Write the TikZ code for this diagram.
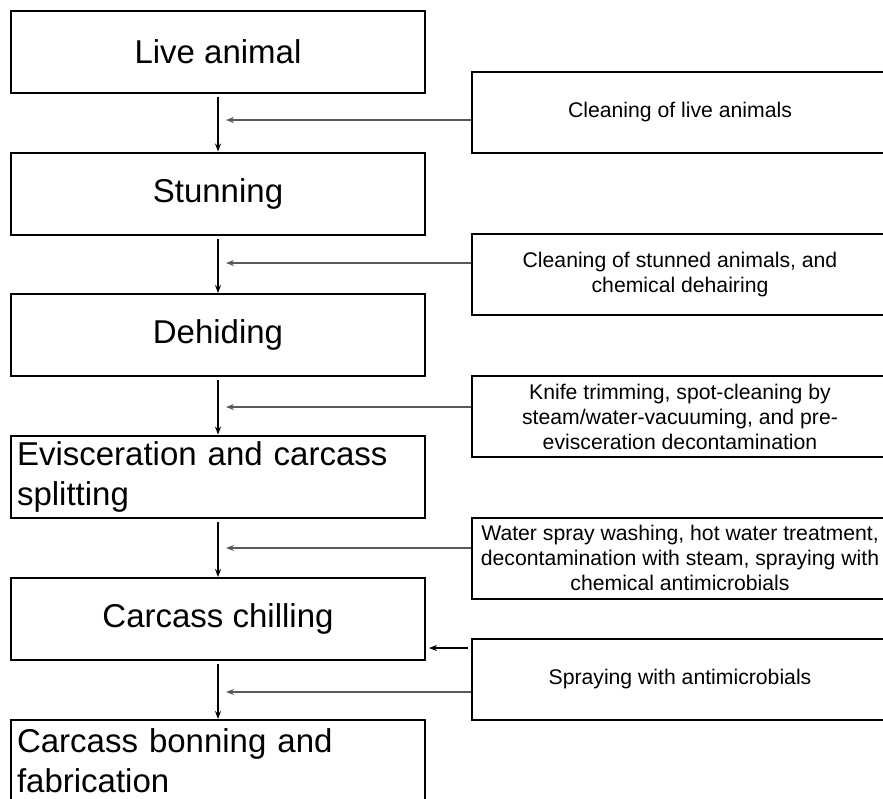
\documentclass[tikz,border=0pt]{standalone}
\usepackage{fontspec}
\setmainfont{Liberation Sans}
\usetikzlibrary{arrows, arrows.meta}

\begin{document}
\begin{tikzpicture}[x=1pt, y=-1pt, >={Stealth[length=8pt, width=6pt]},
		stepbox/.style={draw, line width=2pt, minimum width=414pt, minimum height=82pt, inner sep=6pt, font=\fontsize{33}{40}\selectfont},
		treatbox/.style={draw, line width=2pt, minimum width=416pt, minimum height=81pt, inner sep=2pt, align=center, font=\fontsize{21.2}{25}\selectfont},
		flow/.style={->, line width=1.4pt},
		feed/.style={->, line width=1.6pt, draw=black!65},]
			\useasboundingbox (0, 0) rectangle (883, 798);
			\clip (0, 0) rectangle (883, 798);

			% process steps
			\node[stepbox] at (218,  51.5) (live)     {Live animal};
			\node[stepbox] at (218, 193.5) (stunning) {Stunning};
			\node[stepbox] at (218, 335)   (dehiding) {Dehiding};
			\node[stepbox, align=left, text width=402pt] at (218, 477) (evisc) {Evisceration and carcass\\splitting};
			\node[stepbox] at (218, 619)   (chilling) {Carcass chilling};
			\node[stepbox, align=left, text width=402pt] at (218, 761) (boning) {Carcass bonning and\\fabrication};

			% interventions
			\node[treatbox] at (680, 112.5) (cleanlive) {Cleaning of live animals};
			\node[treatbox] at (680, 274.5) (cleanstun) {Cleaning of stunned animals, and\\chemical dehairing};
			\node[treatbox] at (680, 416.5) (trim)      {Knife trimming, spot-cleaning by\\steam/water-vacuuming, and pre-\\evisceration decontamination};
			\node[treatbox] at (680, 558)   (wash)      {Water spray washing, hot water treatment,\\decontamination with steam, spraying with\\chemical antimicrobials};
			\node[treatbox] at (680, 679.5) (spray)     {Spraying with antimicrobials};

			\coordinate (f1) at (226, 120);
			\coordinate (f2) at (226, 263);
			\coordinate (f3) at (226, 407);
			\coordinate (f4) at (226, 548);
			\coordinate (f5) at (226, 692);
			\coordinate (s1) at (468, 648);
			\coordinate (s2) at (429, 648);

			\draw[flow, shorten <=3pt]
					(live.south)     -- (stunning.north);
			\draw[flow, shorten <=3pt]
					(stunning.south) -- (dehiding.north);
			\draw[flow, shorten <=3pt]
					(dehiding.south) -- (evisc.north);
			\draw[flow, shorten <=3pt]
					(evisc.south)    -- (chilling.north);
			\draw[flow, shorten <=3pt]
					(chilling.south) -- (boning.north);

			\draw[feed] (f1 -| cleanlive.west) -- (f1);
			\draw[feed] (f2 -| cleanstun.west) -- (f2);
			\draw[feed] (f3 -| trim.west)      -- (f3);
			\draw[feed] (f4 -| wash.west)      -- (f4);
			\draw[feed] (f5 -| spray.west)     -- (f5);
			\draw[flow] (s1) -- (s2);

		\end{tikzpicture}
\end{document}
